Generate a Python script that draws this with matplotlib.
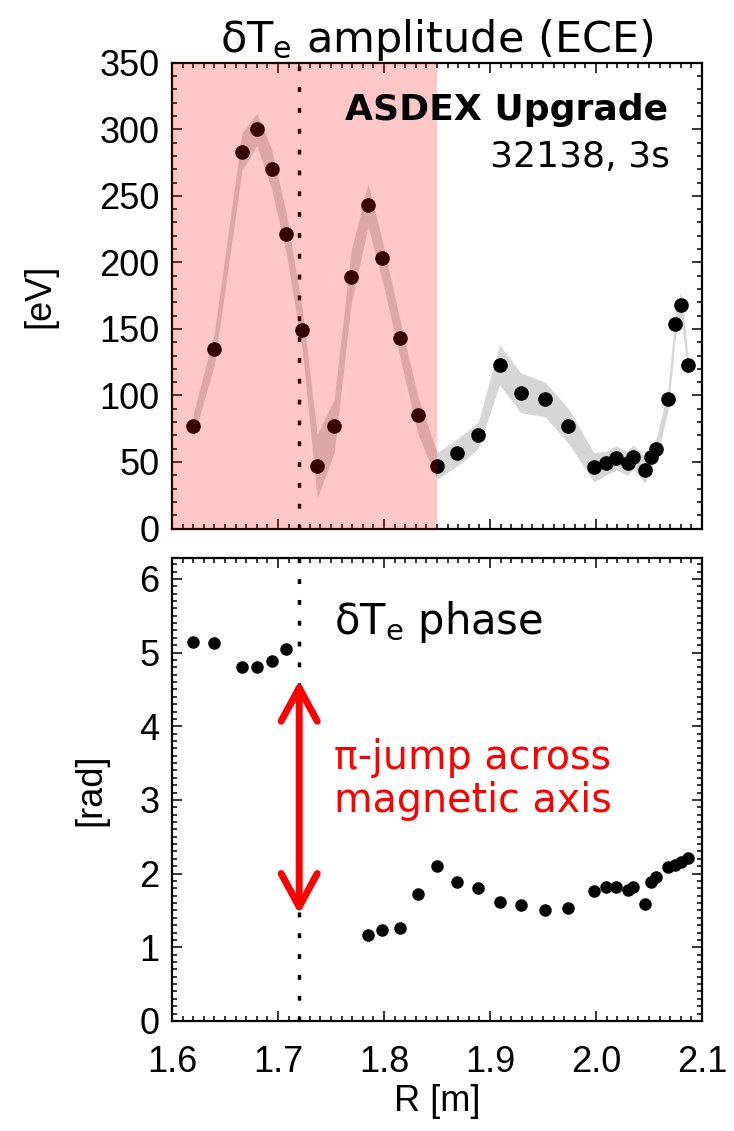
import numpy as np
import matplotlib
matplotlib.use("Agg")
import matplotlib.pyplot as plt
from matplotlib.ticker import MultipleLocator

# radial positions of the ECE channels [m]
r_m = [1.620, 1.640, 1.666, 1.680, 1.694, 1.708, 1.723, 1.737, 1.753, 1.769,
       1.785, 1.798, 1.815, 1.832, 1.850, 1.869, 1.889, 1.909, 1.929, 1.952,
       1.974, 1.998, 2.009, 2.019, 2.030, 2.035, 2.046, 2.052, 2.057, 2.068,
       2.075, 2.080, 2.087]

# dTe amplitude [eV] and its uncertainty
amp_ev = [77, 135, 283, 300, 270, 221, 149, 47, 77, 189,
          243, 203, 143, 85, 47, 57, 70, 123, 102, 97,
          77, 46, 49, 53, 49, 54, 44, 54, 60, 97,
          154, 168, 123]
amp_err = [9, 12, 14, 12, 15, 15, 15, 24, 20, 20,
           16, 15, 14, 14, 10, 10, 10, 15, 15, 13,
           13, 11, 9, 9, 9, 9, 10, 8, 8, 8,
           10, 10, 6]

# dTe phase [rad] (no phase for some channels)
nan = np.nan
phase_rad = [5.15, 5.13, 4.81, 4.80, 4.89, 5.05, nan, nan, nan, nan,
             1.16, 1.23, 1.26, 1.72, 2.10, 1.88, 1.80, 1.62, 1.57, 1.51,
             1.53, 1.76, 1.82, 1.82, 1.78, 1.82, 1.59, 1.89, 1.95, 2.09,
             2.12, 2.16, 2.21]

r_axis = 1.72        # magnetic axis
r_shade = (1.6, 1.85)

plt.rcParams['mathtext.fontset'] = 'dejavusans'
tick_font = 'Liberation Sans'
text_font = 'DejaVu Sans'

r = np.array(r_m)
amp = np.array(amp_ev)
err = np.array(amp_err)
phase = np.array(phase_rad)

fig = plt.figure(figsize=(7.34, 11.31), dpi=100)
ax1 = fig.add_axes([0.2343, 0.5327, 0.7221, 0.4118])
ax2 = fig.add_axes([0.2343, 0.0973, 0.7221, 0.4093])


def style_axis(ax, ymaj, ymin):
    ax.set_xlim(1.6, 2.1)
    ax.xaxis.set_major_locator(MultipleLocator(0.1))
    ax.xaxis.set_minor_locator(MultipleLocator(0.01))
    ax.yaxis.set_major_locator(MultipleLocator(ymaj))
    ax.yaxis.set_minor_locator(MultipleLocator(ymin))
    ax.tick_params(which='both', direction='in', top=True, right=True, width=1.1)
    ax.tick_params(which='major', length=7)
    ax.tick_params(which='minor', length=3.5)
    ax.tick_params(axis='y', pad=9)
    ax.tick_params(axis='x', pad=17)
    for s in ax.spines.values():
        s.set_linewidth(1.6)
    for lab in ax.get_xticklabels() + ax.get_yticklabels():
        lab.set_fontfamily(tick_font)
        lab.set_fontsize(26)


# --- amplitude panel
ax1.fill_between(r, amp - err, amp + err, color='#d6d6d6', lw=0, zorder=1)
ax1.plot(r, amp, 'o', color='black', ms=9.5, zorder=3)
ax1.axvline(r_axis, color='black', lw=2.5, dashes=(1.4, 4.6), zorder=2)
ax1.axvspan(*r_shade, color='red', alpha=0.22, lw=0, zorder=5)
ax1.set_ylim(0, 350)
style_axis(ax1, 50, 10)
ax1.set_xticklabels([])
ax1.set_ylabel('[eV]', fontfamily=tick_font, fontsize=26, labelpad=30)
ax1.set_title('δT$_{\\rm e}$ amplitude (ECE)', fontfamily=text_font,
              fontsize=31, pad=4)
ax1.text(0.936, 0.899, 'ASDEX Upgrade', transform=ax1.transAxes, ha='right',
         va='center', fontfamily=text_font, fontweight='bold', fontsize=26, zorder=10)
ax1.text(0.94, 0.798, '32138, 3s', transform=ax1.transAxes, ha='right',
         va='center', fontfamily=text_font, fontsize=26, zorder=10)

# --- phase panel
ax2.plot(r, phase, 'o', color='black', ms=8, zorder=3)
ax2.axvline(r_axis, color='black', lw=2.5, dashes=(1.4, 4.6), zorder=2)
ax2.annotate('', xy=(r_axis, 4.62), xytext=(r_axis, 1.45),
             arrowprops=dict(arrowstyle='<->,head_length=1.2,head_width=0.65',
                             color='red', lw=5, mutation_scale=20,
                             shrinkA=0, shrinkB=0), zorder=4)
ax2.set_ylim(0, 2 * np.pi)
style_axis(ax2, 1, 0.1)
ax2.set_xlabel('R [m]', fontfamily=tick_font, fontsize=26, labelpad=3)
ax2.set_ylabel('[rad]', fontfamily=tick_font, fontsize=26, labelpad=22)
ax2.text(1.753, 5.42, 'δT$_{\\rm e}$ phase', fontfamily=text_font,
         fontsize=30, va='center')
ax2.text(1.753, 3.28, 'π-jump across\nmagnetic axis', fontfamily=text_font,
         fontsize=28.5, color='red', va='center', linespacing=1.1)

fig.savefig('out.png', dpi=100)
